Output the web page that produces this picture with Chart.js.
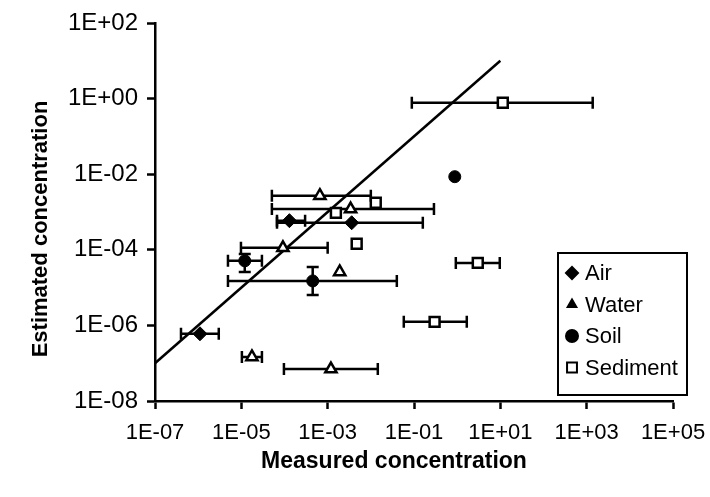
<!DOCTYPE html>
<html>
<head>
<meta charset="utf-8">
<script src="https://cdn.jsdelivr.net/npm/chart.js@4.4.0/dist/chart.umd.min.js"></script>
<style>
  html, body { margin: 0; padding: 0; background: #fff; }
  #wrap { width: 710px; height: 497px; }
</style>
</head>
<body>
<div id="wrap"><canvas id="chart"></canvas></div>
<script>
// Axis ticks
const xTickValues = [1e-7, 1e-5, 1e-3, 1e-1, 1e1, 1e3, 1e5];
const xTickLabels = ['1E-07', '1E-05', '1E-03', '1E-01', '1E+01', '1E+03', '1E+05'];
const yTickValues = [1e-8, 1e-6, 1e-4, 1e-2, 1e0, 1e2];
const yTickLabels = ['1E-08', '1E-06', '1E-04', '1E-02', '1E+00', '1E+02'];

// Air
const airMeasured = [1.1e-6, 1.3e-4, 3.6e-3];
const airEstimated = [6.0e-7, 5.9e-4, 5.2e-4];
const airMeasuredLow = [4.0e-7, 6.7e-5, 6.7e-5];
const airMeasuredHigh = [3.0e-6, 3.0e-4, 0.16];

// Water
const waterMeasured = [6.6e-4, 3.4e-3, 9.2e-5, 1.9e-3, 1.76e-5, 1.19e-3];
const waterEstimated = [2.7e-3, 1.2e-3, 1.13e-4, 2.6e-5, 1.47e-7, 7.0e-8];
const waterMeasuredLow = [5.1e-5, 5.1e-5, 9.8e-6, null, 1.03e-5, 9.7e-5];
const waterMeasuredHigh = [1.0e-2, 0.29, 1.0e-3, null, 3.0e-5, 1.45e-2];

// Soil
const soilMeasured = [1.2e-5, 4.5e-4, 0.88];
const soilEstimated = [5.1e-5, 1.5e-5, 8.6e-3];
const soilMeasuredLow = [4.9e-6, 4.9e-6, null];
const soilMeasuredHigh = [3.0e-5, 0.04, null];
const soilEstimatedLow = [2.6e-5, 6.4e-6, null];
const soilEstimatedHigh = [7.8e-5, 3.5e-5, null];

// Sediment
const sedimentMeasured = [11.4, 1.3e-2, 1.55e-3, 4.7e-3, 3.0, 0.30];
const sedimentEstimated = [0.78, 1.76e-3, 9.5e-4, 1.44e-4, 4.5e-5, 1.24e-6];
const sedimentMeasuredLow = [0.089, null, null, null, 0.93, 0.058];
const sedimentMeasuredHigh = [1380, null, null, null, 9.7, 1.67];

// 1:1 line
const lineMeasured = [1e-7, 10];
const lineEstimated = [1e-7, 10];

const FONT = '"Liberation Sans", Arial, sans-serif';

function buildPoints(xs, ys, xLow, xHigh, yLow, yHigh) {
    return xs.map((x, i) => ({
        x: x,
        y: ys[i],
        xMin: xLow ? xLow[i] : null,
        xMax: xHigh ? xHigh[i] : null,
        yMin: yLow ? yLow[i] : null,
        yMax: yHigh ? yHigh[i] : null
    }));
}

// Error bars drawn through the chart scales
const errorBars = {
    id: 'errorBars',
    beforeDatasetsDraw(chart) {
        const { ctx, scales: { x, y } } = chart;
        const cap = 6;
        ctx.save();
        ctx.strokeStyle = '#000';
        ctx.lineWidth = 2.5;
        chart.data.datasets.forEach(ds => {
            if (!ds.errorBars) return;
            ds.data.forEach(p => {
                const px = x.getPixelForValue(p.x);
                const py = y.getPixelForValue(p.y);
                ctx.beginPath();
                if (p.xMin != null) {
                    const x1 = x.getPixelForValue(p.xMin);
                    const x2 = x.getPixelForValue(p.xMax);
                    ctx.moveTo(x1, py); ctx.lineTo(x2, py);
                    ctx.moveTo(x1, py - cap); ctx.lineTo(x1, py + cap);
                    ctx.moveTo(x2, py - cap); ctx.lineTo(x2, py + cap);
                }
                if (p.yMin != null) {
                    const y1 = y.getPixelForValue(p.yMin);
                    const y2 = y.getPixelForValue(p.yMax);
                    ctx.moveTo(px, y1); ctx.lineTo(px, y2);
                    ctx.moveTo(px - cap, y1); ctx.lineTo(px + cap, y1);
                    ctx.moveTo(px - cap, y2); ctx.lineTo(px + cap, y2);
                }
                ctx.stroke();
            });
        });
        ctx.restore();
    }
};

// Axis titles: both sit a bit off the middle of their axis in the original
const axisTitles = {
    id: 'axisTitles',
    afterDraw(chart) {
        const ctx = chart.ctx;
        ctx.save();
        ctx.fillStyle = '#000';
        ctx.textAlign = 'center';
        ctx.textBaseline = 'middle';
        ctx.font = 'bold 23px ' + FONT;
        ctx.fillText('Measured concentration', 394, 462);
        ctx.translate(41, 229);
        ctx.rotate(-Math.PI / 2);
        ctx.font = 'bold 22px ' + FONT;
        ctx.fillText('Estimated concentration', 0, 0);
        ctx.restore();
    }
};

// Boxed legend inside the plot
const boxLegend = {
    id: 'boxLegend',
    afterDraw(chart) {
        const ctx = chart.ctx;
        const box = { left: 558, top: 253, width: 129, height: 142 };
        ctx.save();
        ctx.fillStyle = '#fff';
        ctx.fillRect(box.left, box.top, box.width, box.height);
        ctx.strokeStyle = '#000';
        ctx.lineWidth = 2;
        ctx.strokeRect(box.left, box.top, box.width, box.height);
        const items = chart.data.datasets.filter(ds => ds.legendStyle);
        items.forEach((ds, i) => {
            const cy = box.top + 20 + i * 31.5;
            ctx.fillStyle = ds.legendStyle.fill;
            ctx.strokeStyle = '#000';
            ctx.lineWidth = 2;
            Chart.helpers.drawPoint(ctx, {
                pointStyle: ds.pointStyle,
                radius: ds.legendStyle.radius,
                rotation: 0,
                borderWidth: 2
            }, 572, cy);
            ctx.fillStyle = '#000';
            ctx.font = '22px ' + FONT;
            ctx.textBaseline = 'middle';
            ctx.textAlign = 'left';
            ctx.fillText(ds.label, 585, cy + 1);
        });
        ctx.restore();
    }
};

function createChart() {
    const ctx = document.getElementById('chart').getContext('2d');
    new Chart(ctx, {
        type: 'scatter',
        data: {
            datasets: [
                {
                    label: '1:1',
                    data: buildPoints(lineMeasured, lineEstimated),
                    showLine: true,
                    borderColor: '#000',
                    borderWidth: 2.5,
                    pointRadius: 0,
                    order: 5
                },
                {
                    label: 'Air',
                    data: buildPoints(airMeasured, airEstimated, airMeasuredLow, airMeasuredHigh),
                    errorBars: true,
                    pointStyle: 'rectRot',
                    pointRadius: 7,
                    backgroundColor: '#000',
                    borderColor: '#000',
                    borderWidth: 1,
                    legendStyle: { fill: '#000', radius: 6 }
                },
                {
                    label: 'Water',
                    data: buildPoints(waterMeasured, waterEstimated, waterMeasuredLow, waterMeasuredHigh),
                    errorBars: true,
                    pointStyle: 'triangle',
                    pointRadius: 6.5,
                    backgroundColor: '#fff',
                    borderColor: '#000',
                    borderWidth: 2.5,
                    legendStyle: { fill: '#000', radius: 5 }
                },
                {
                    label: 'Soil',
                    data: buildPoints(soilMeasured, soilEstimated, soilMeasuredLow, soilMeasuredHigh, soilEstimatedLow, soilEstimatedHigh),
                    errorBars: true,
                    pointStyle: 'circle',
                    pointRadius: 6,
                    backgroundColor: '#000',
                    borderColor: '#000',
                    borderWidth: 1,
                    legendStyle: { fill: '#000', radius: 6 }
                },
                {
                    label: 'Sediment',
                    data: buildPoints(sedimentMeasured, sedimentEstimated, sedimentMeasuredLow, sedimentMeasuredHigh),
                    errorBars: true,
                    pointStyle: 'rect',
                    pointRadius: 7,
                    backgroundColor: '#fff',
                    borderColor: '#000',
                    borderWidth: 2.5,
                    legendStyle: { fill: '#fff', radius: 7 }
                }
            ]
        },
        options: {
            responsive: true,
            maintainAspectRatio: false,
            animation: false,
            layout: { padding: { top: 23, right: 37, bottom: 0, left: 0 } },
            plugins: {
                legend: { display: false },
                tooltip: { enabled: false }
            },
            scales: {
                x: {
                    type: 'logarithmic',
                    min: 1e-7,
                    max: 1e5,
                    afterBuildTicks(scale) {
                        scale.ticks = xTickValues.map(v => ({ value: v }));
                    },
                    afterFit(scale) {
                        scale.height = 96;
                        scale.paddingLeft = 0;
                        scale.paddingRight = 0;
                    },
                    border: { display: true, color: '#000', width: 2.5 },
                    grid: { drawOnChartArea: false, drawTicks: true, tickLength: 8, tickColor: '#000', tickWidth: 2.5 },
                    ticks: {
                        autoSkip: false,
                        maxRotation: 0,
                        padding: 11,
                        color: '#000',
                        font: { family: FONT, size: 22 },
                        callback: (v, i) => xTickLabels[i]
                    }
                },
                y: {
                    type: 'logarithmic',
                    min: 1e-8,
                    max: 1e2,
                    afterBuildTicks(scale) {
                        scale.ticks = yTickValues.map(v => ({ value: v }));
                    },
                    afterFit(scale) {
                        scale.width = 155;
                        scale.paddingTop = 0;
                        scale.paddingBottom = 0;
                    },
                    border: { display: true, color: '#000', width: 2.5 },
                    grid: { drawOnChartArea: false, drawTicks: true, tickLength: 8, tickColor: '#000', tickWidth: 2.5 },
                    ticks: {
                        autoSkip: false,
                        padding: 9,
                        color: '#000',
                        font: { family: FONT, size: 24 },
                        callback: (v, i) => yTickLabels[i]
                    }
                }
            }
        },
        plugins: [errorBars, axisTitles, boxLegend]
    });
}

document.addEventListener('DOMContentLoaded', createChart);
</script>
</body>
</html>
